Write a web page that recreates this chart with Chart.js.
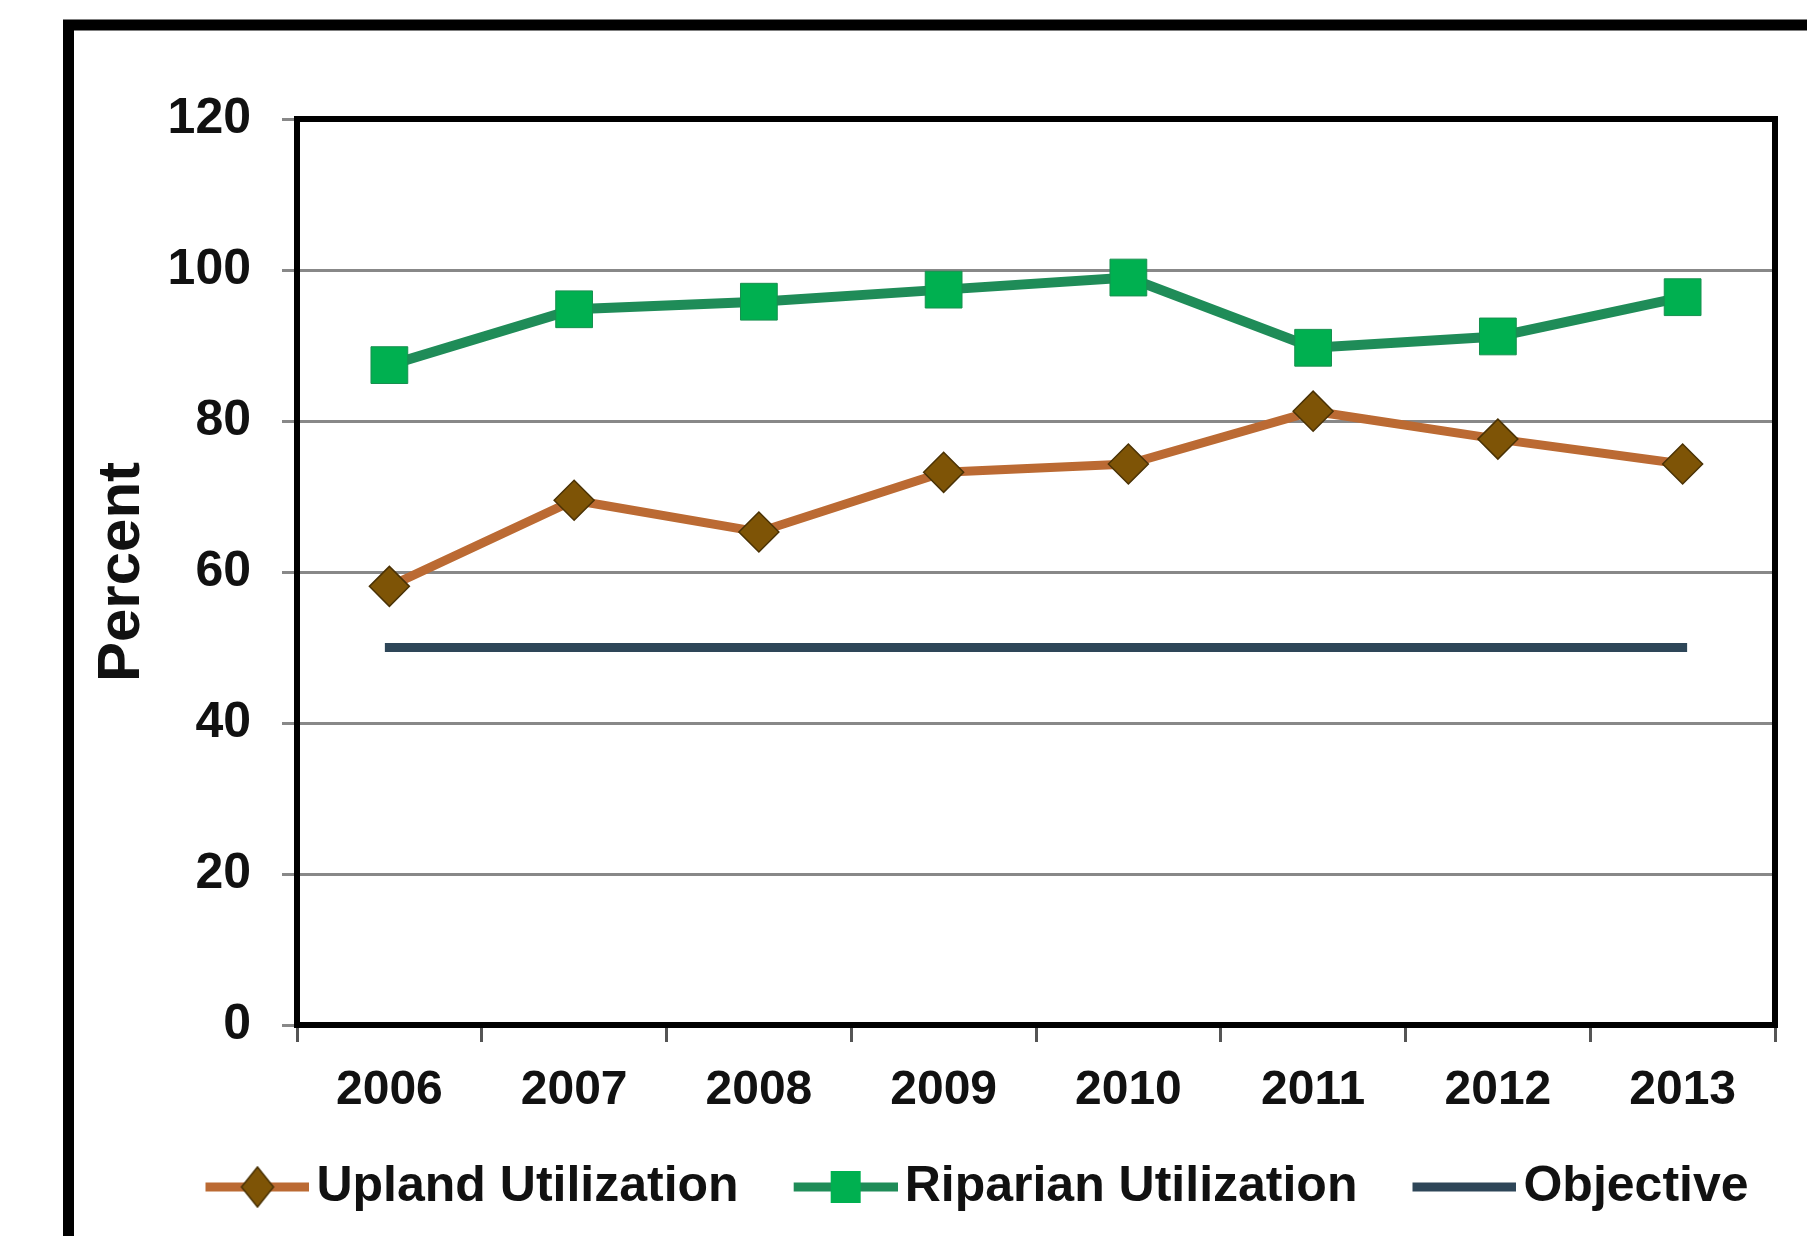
<!DOCTYPE html>
<html><head><meta charset="utf-8">
<script src="https://cdn.jsdelivr.net/npm/chart.js@4.4.1/dist/chart.umd.min.js"></script>
<style>html,body{margin:0;padding:0;background:#fff;overflow:hidden}
#wrap{position:relative;width:1807px;height:1236px}</style>
</head><body><div id="wrap"><canvas id="c" width="1807" height="1236"></canvas></div>
<script>
const years = ['2006','2007','2008','2009','2010','2011','2012','2013'];
const uplandValues = [58.1, 69.5, 65.3, 73.2, 74.3, 81.3, 77.6, 74.3];
const riparianValues = [87.4, 94.8, 95.8, 97.4, 99.0, 89.7, 91.2, 96.4];
const objectiveValues = [50, 50, 50, 50, 50, 50, 50, 50];
const seriesNames = ['Upland Utilization', 'Riparian Utilization', 'Objective'];
const yMin = 0, yMax = 120, yStep = 20;

const UPLAND_LINE = '#BB6A33', UPLAND_FILL = '#7E5406', UPLAND_EDGE = '#4A3205';
const RIP_LINE = '#1F8C58', RIP_FILL = '#00B050', RIP_EDGE = '#17904F';
const OBJ_LINE = '#2E4658';

// legend icon: transparent 45px on the left, then a 104px line with marker
function legendIcon(color, lw, marker, fill, edge) {
  const c = document.createElement('canvas');
  c.width = 149; c.height = 44;
  const g = c.getContext('2d');
  const x0 = 45, cx = x0 + 52;
  g.strokeStyle = color; g.lineWidth = lw;
  g.beginPath(); g.moveTo(x0, 22); g.lineTo(x0 + 104, 22); g.stroke();
  g.fillStyle = fill; g.strokeStyle = edge; g.lineWidth = 1.5;
  if (marker === 'diamond') {
    g.beginPath(); g.moveTo(cx, 2); g.lineTo(cx + 16, 22); g.lineTo(cx, 42); g.lineTo(cx - 16, 22); g.closePath();
    g.fill(); g.stroke();
  } else if (marker === 'square') {
    g.fillRect(cx - 15, 6, 30, 32);
  }
  return c;
}
const icons = [
  legendIcon(UPLAND_LINE, 9, 'diamond', UPLAND_FILL, UPLAND_EDGE),
  legendIcon(RIP_LINE, 9, 'square', RIP_FILL, RIP_EDGE),
  legendIcon(OBJ_LINE, 9, null)
];

const framePlugin = {
  id: 'frame',
  beforeDraw(chart) {
    const ctx = chart.ctx;
    ctx.save();
    ctx.fillStyle = '#fff';
    ctx.fillRect(0, 0, chart.width, chart.height);
    ctx.strokeStyle = '#000';
    ctx.lineWidth = 11;
    ctx.strokeRect(68.5, 25, 1900, 1500);
    ctx.restore();
  },
  beforeDatasetsDraw(chart) {
    const a = chart.chartArea, ctx = chart.ctx;
    ctx.save();
    ctx.strokeStyle = '#000';
    ctx.lineWidth = 6;
    ctx.strokeRect(a.left, a.top, a.right - a.left, a.bottom - a.top);
    ctx.restore();
  },
  afterLayout(chart) {
    const lg = chart.legend;
    if (lg) { lg.left += 38; lg.right += 38; }
  }
};

new Chart(document.getElementById('c'), {
  type: 'line',
  data: {
    labels: years,
    datasets: [
      { label: seriesNames[0], data: uplandValues, borderColor: UPLAND_LINE, borderWidth: 9,
        pointStyle: 'rectRot', pointRadius: 20, pointBackgroundColor: UPLAND_FILL,
        pointBorderColor: UPLAND_EDGE, pointBorderWidth: 1.5, tension: 0, order: 2 },
      { label: seriesNames[1], data: riparianValues, borderColor: RIP_LINE, borderWidth: 10,
        pointStyle: 'rect', pointRadius: 26, pointBackgroundColor: RIP_FILL,
        pointBorderColor: RIP_EDGE, pointBorderWidth: 1, tension: 0, order: 1 },
      { label: seriesNames[2], data: objectiveValues, borderColor: OBJ_LINE, borderWidth: 9,
        borderCapStyle: 'square', pointRadius: 0, tension: 0, order: 3 }
    ]
  },
  options: {
    responsive: false,
    animation: false,
    layout: { padding: { left: 76, right: 32, top: 119, bottom: 14 } },
    plugins: {
      tooltip: { enabled: false },
      legend: {
        position: 'bottom',
        align: 'center',
        labels: {
          usePointStyle: true,
          pointStyleWidth: 113,
          padding: 28,
          color: '#111',
          font: { family: '"Liberation Sans", Arial, sans-serif', size: 50, weight: 'bold' },
          generateLabels(chart) {
            return chart.data.datasets.map((ds, i) => ({
              text: ds.label, pointStyle: icons[i], fillStyle: ds.borderColor,
              strokeStyle: ds.borderColor, lineWidth: 0, hidden: false, datasetIndex: i, fontColor: '#111'
            }));
          }
        }
      }
    },
    scales: {
      x: {
        offset: true,
        afterFit(s) { s.height = 109; },
        grid: { offset: true, drawOnChartArea: false, drawTicks: true, tickLength: 17, color: '#555', lineWidth: 3 },
        border: { display: true, color: '#000', width: 6 },
        ticks: { color: '#111', padding: 20, maxRotation: 0,
          font: { family: '"Liberation Sans", Arial, sans-serif', size: 48, weight: 'bold' } }
      },
      y: {
        min: yMin, max: yMax,
        afterFit(s) { s.width = 221; },
        grid: { color: '#888', lineWidth: 3, tickLength: 15, tickColor: '#888', tickWidth: 3 },
        border: { display: true, color: '#000', width: 6 },
        ticks: { stepSize: yStep, color: '#111', padding: 31,
          font: { family: '"Liberation Sans", Arial, sans-serif', size: 50, weight: 'bold' } },
        title: { display: true, text: 'Percent', color: '#111', padding: { top: 10, bottom: 0 },
          font: { family: '"Liberation Sans", Arial, sans-serif', size: 60, weight: 'bold' } }
      }
    }
  },
  plugins: [framePlugin]
});
</script></body></html>
